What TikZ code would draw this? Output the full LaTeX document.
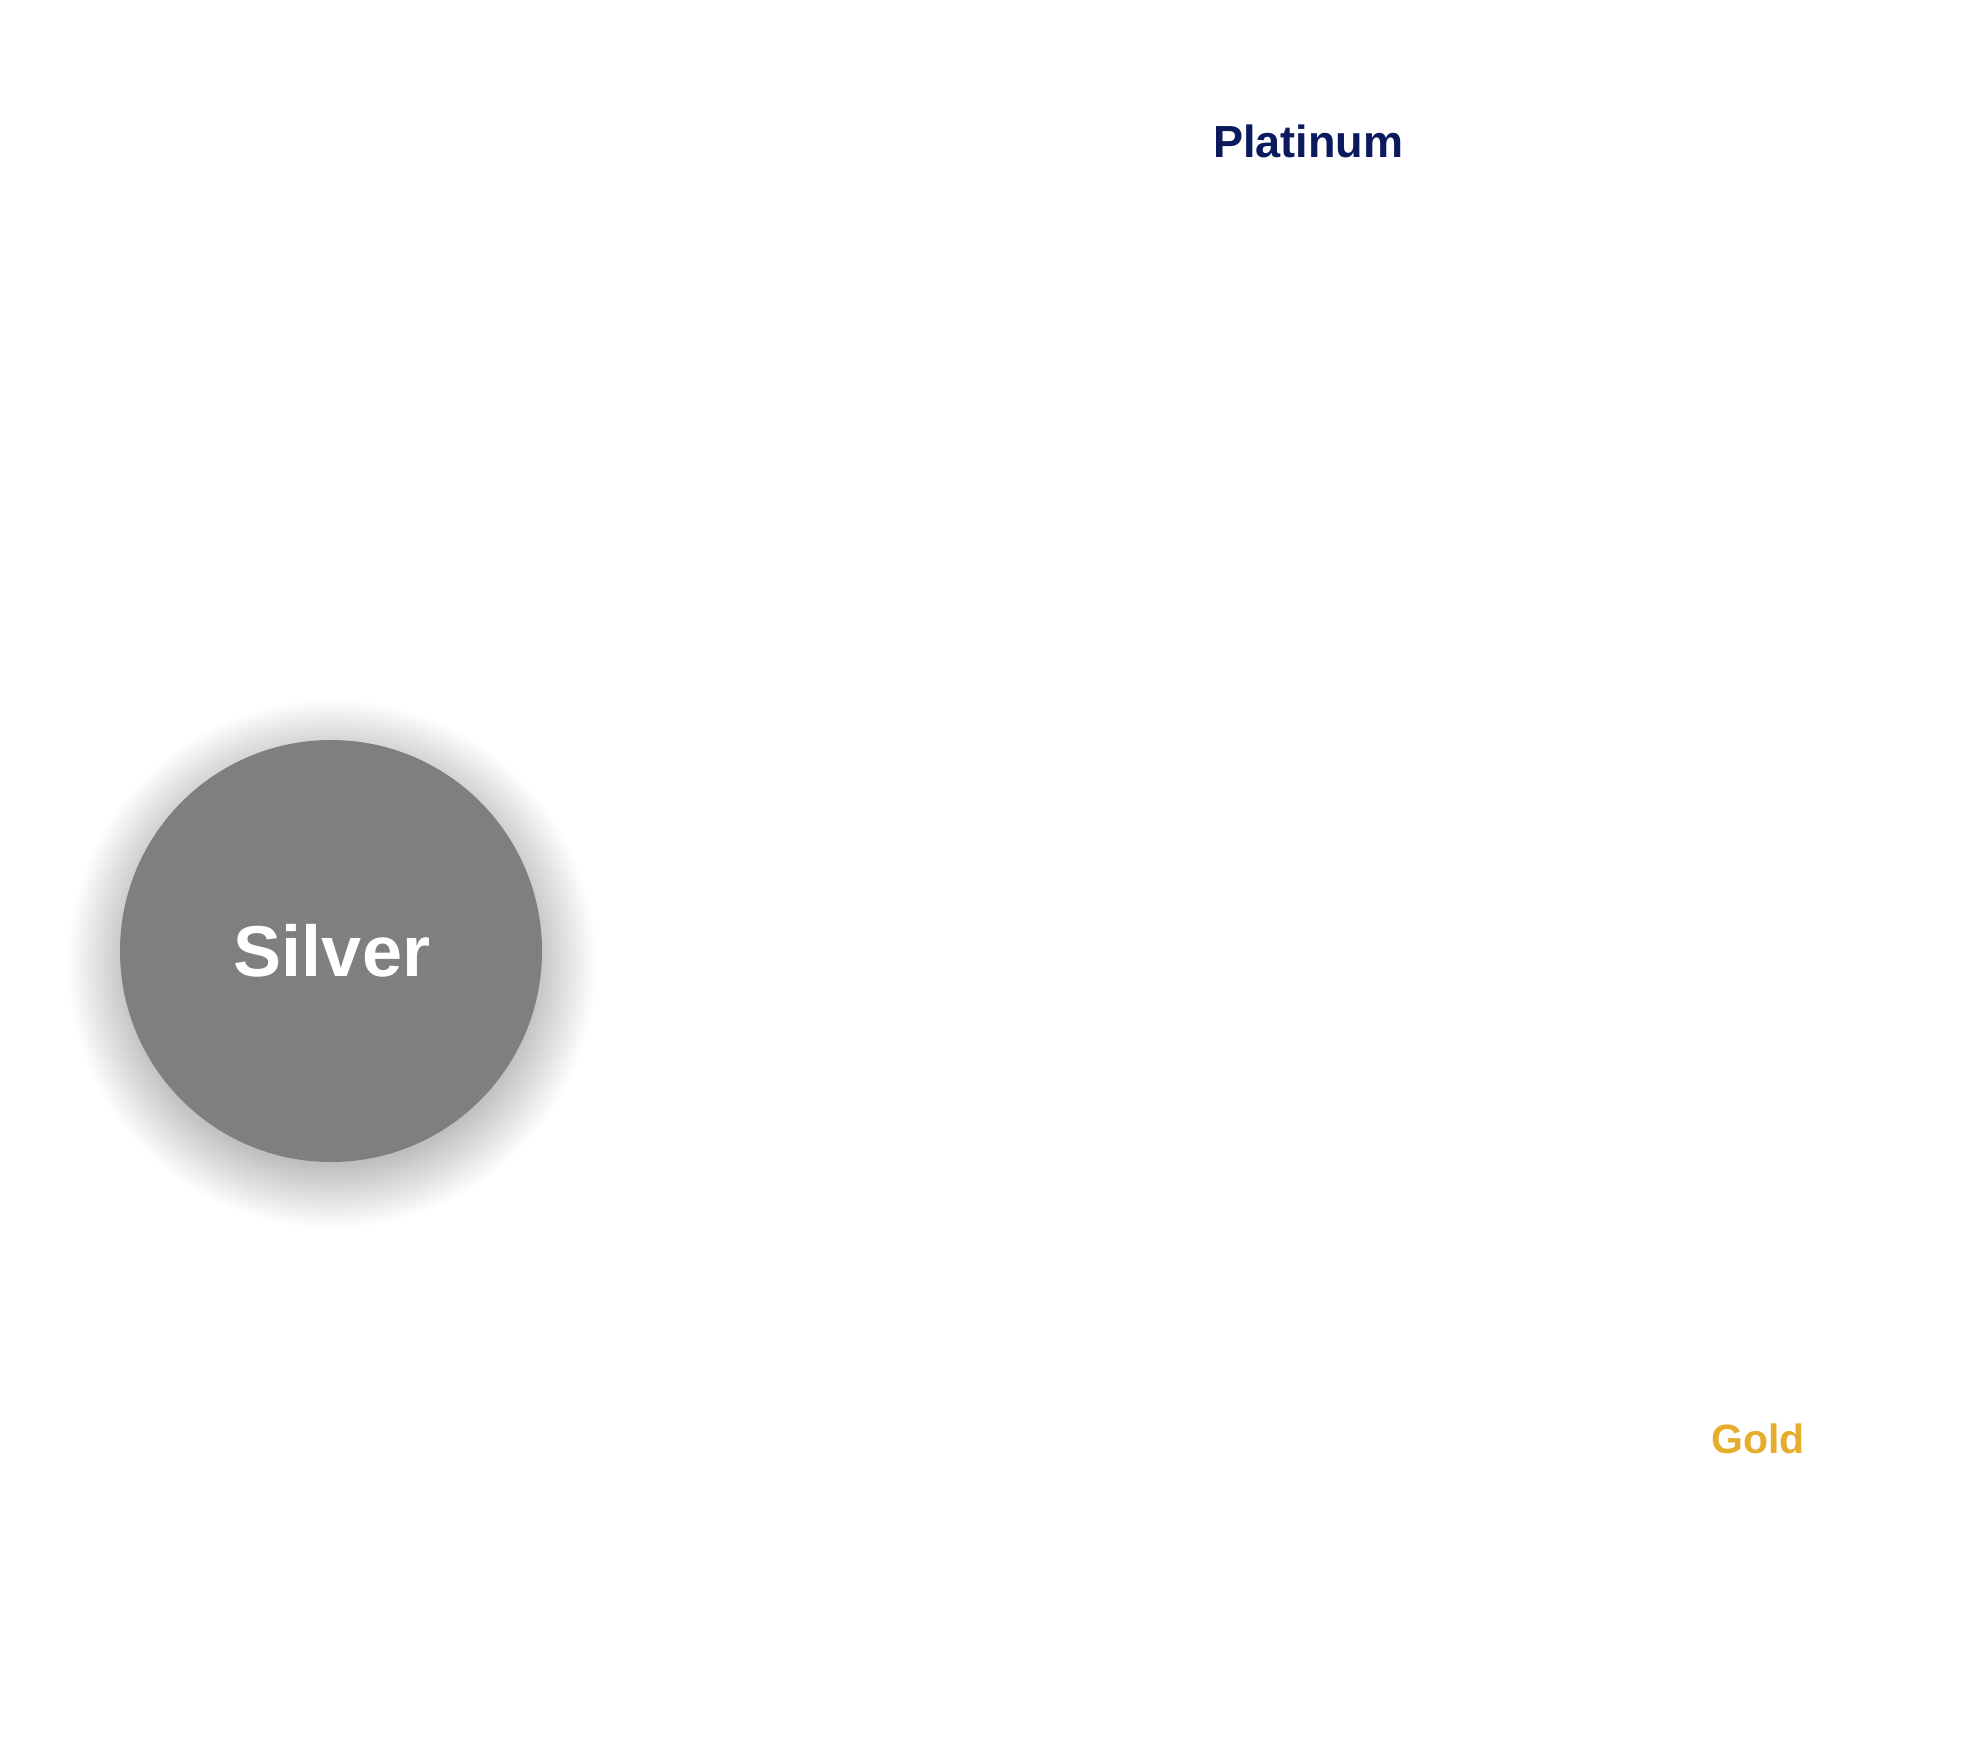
\documentclass[tikz,border=0pt]{standalone}
\usepackage{fontspec}
\setmainfont{Liberation Sans}
\definecolor{navy}{HTML}{0B1A5C}
\definecolor{goldc}{HTML}{E6AD2C}
\definecolor{silverc}{HTML}{7F7F7F}
\tikzset{
  lbl/.style={inner sep=0pt, font=\bfseries},
  disc/.style={circle, fill=silverc, minimum size=211pt, inner sep=0pt, text=white}
}
\begin{document}
\begin{tikzpicture}[x=1pt,y=1pt]
\useasboundingbox[fill=white] (0,0) rectangle (984,-870);
% soft shadow
\foreach \i in {1,...,32}{
  \fill[black, opacity=0.0075] (166,-482) circle ({100+\i*1.0});
}
\node[disc] (silver) at (165.5,-475.5) {};
\node[lbl, text=white, font=\bfseries\fontsize{36}{40}\selectfont] (silvert) at (166,-475.5) {Silver};
\node[lbl, text=navy, font=\bfseries\fontsize{22.5}{26}\selectfont] (platinum) at (654,-70.5) {Platinum};
\node[lbl, text=goldc, font=\bfseries\fontsize{20.5}{24}\selectfont] (gold) at (879,-719.5) {Gold};
\end{tikzpicture}
\end{document}
